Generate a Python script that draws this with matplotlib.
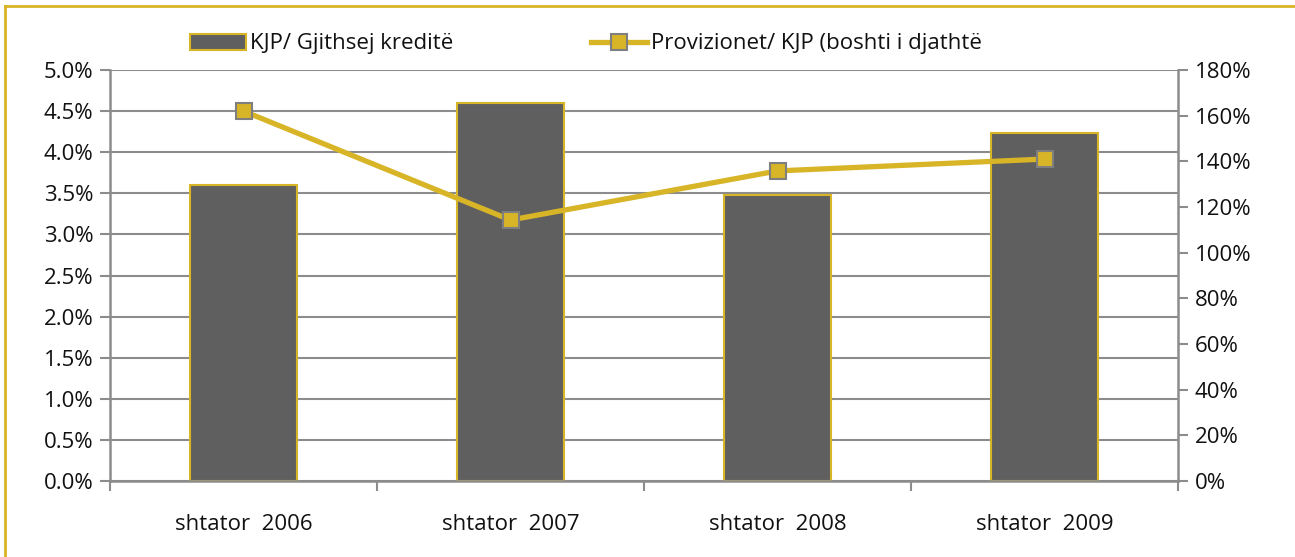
import matplotlib
matplotlib.use("Agg")
import matplotlib.pyplot as plt
from matplotlib.ticker import FuncFormatter, MultipleLocator
from matplotlib.patches import Rectangle
from matplotlib.lines import Line2D

categories = ["shtator  2006", "shtator  2007", "shtator  2008", "shtator  2009"]
kjp_share = [3.60, 4.60, 3.48, 4.23]          # % (left axis)
provisions = [162.0, 114.3, 135.8, 141.0]      # % (right axis)

gold = "#D8B427"
bar_color = "#5F5F5F"
grid_gray = "#8C8C8C"
fs = 16

plt.rcParams['font.family'] = ['Open Sans', 'DejaVu Sans']
fig = plt.figure(figsize=(12.95, 5.57), dpi=100)
ax = fig.add_axes([110/1295, 1-481/557, (1178-110)/1295, (481-70)/557])

x = list(range(len(categories)))
ax.bar(x, kjp_share, width=0.4, color=bar_color, edgecolor=gold, linewidth=1.5, zorder=2)
ax.set_xlim(-0.5, 3.5)
ax.set_ylim(0, 5.0)
ax.yaxis.set_major_locator(MultipleLocator(0.5))
ax.yaxis.set_major_formatter(FuncFormatter(lambda v, p: f"{v:.1f}%"))
ax.grid(axis='y', color=grid_gray, linewidth=1.5, zorder=0)
ax.set_axisbelow(True)
ax.set_xticks([-0.5, 0.5, 1.5, 2.5, 3.5])
ax.set_xticklabels([])
ax.set_xticks(x, minor=True)
ax.set_xticklabels(categories, minor=True)
ax.tick_params(axis='x', which='major', length=7, width=1.5, color=grid_gray, direction='out')
ax.tick_params(axis='x', which='minor', length=0, pad=24, labelsize=fs, labelcolor='#111111')
ax.tick_params(axis='y', length=7, width=1.5, color=grid_gray, labelsize=fs, pad=5, labelcolor='#111111')
for s in ['top', 'right']:
    ax.spines[s].set_visible(False)
for s in ['left', 'bottom']:
    ax.spines[s].set_color(grid_gray)
    ax.spines[s].set_linewidth(1.8)

ax2 = ax.twinx()
ax2.plot(x, provisions, color=gold, linewidth=3.8, marker='s', markersize=12,
         markerfacecolor=gold, markeredgecolor="#7F7F7F", markeredgewidth=1.5, zorder=3)
ax2.set_ylim(0, 180)
ax2.yaxis.set_major_locator(MultipleLocator(20))
ax2.yaxis.set_major_formatter(FuncFormatter(lambda v, p: f"{v:.0f}%"))
ax2.tick_params(axis='y', length=7, width=1.5, color=grid_gray, labelsize=fs, pad=5, labelcolor='#111111')
for s in ['top', 'left', 'bottom']:
    ax2.spines[s].set_visible(False)
ax2.spines['right'].set_color(grid_gray)
ax2.spines['right'].set_linewidth(1.8)

handles = [Rectangle((0, 0), 1, 1, facecolor=bar_color, edgecolor=gold, linewidth=1.5),
           Line2D([0], [0], color=gold, linewidth=3.8, marker='s', markersize=12,
                  markerfacecolor=gold, markeredgecolor="#7F7F7F", markeredgewidth=1.5)]
fig.legend(handles, ["KJP/ Gjithsej kreditë", "Provizionet/ KJP (boshti i djathtë"],
           loc='center left', bbox_to_anchor=(190/1295, 1-44/557), ncol=2, frameon=False,
           fontsize=fs, handlelength=2.5, handleheight=0.7, handletextpad=0.2,
           columnspacing=6.2, labelcolor='#111111', borderpad=0, borderaxespad=0)

# outer frame: only top and left edges visible
fig.add_artist(Line2D([5/1295, 5/1295], [0, 1-6/557], transform=fig.transFigure,
                      color=gold, linewidth=2))
fig.add_artist(Line2D([5/1295, 1], [1-6/557, 1-6/557], transform=fig.transFigure,
                      color=gold, linewidth=2))
fig.savefig("out.png", dpi=100)
